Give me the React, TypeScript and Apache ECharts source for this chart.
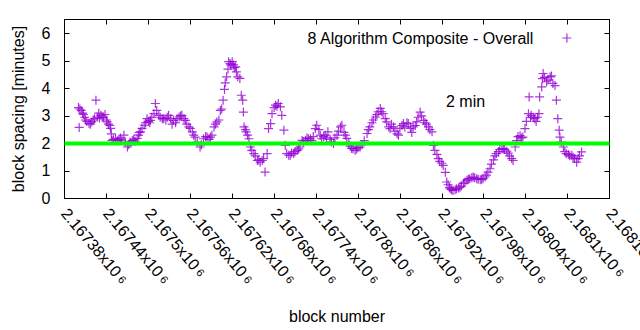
import React, { useEffect, useRef } from "react";
import * as echarts from "echarts";

// block numbers (x) and block spacing in minutes (y)
const blocks = [
  2167400, 2167401, 2167402, 2167404, 2167406, 2167407, 2167409, 2167410, 2167412, 2167415,
  2167417, 2167419, 2167421, 2167423, 2167425, 2167427, 2167429, 2167430, 2167432, 2167434,
  2167436, 2167438, 2167440, 2167441, 2167443, 2167445, 2167446, 2167447, 2167448, 2167450,
  2167453, 2167456, 2167458, 2167460, 2167462, 2167465, 2167467, 2167470, 2167472, 2167474,
  2167477, 2167479, 2167481, 2167484, 2167486, 2167487, 2167489, 2167491, 2167494, 2167496,
  2167498, 2167500, 2167502, 2167503, 2167505, 2167508, 2167510, 2167512, 2167515, 2167517,
  2167520, 2167522, 2167525, 2167527, 2167529, 2167532, 2167534, 2167536, 2167539, 2167541,
  2167544, 2167546, 2167548, 2167551, 2167553, 2167555, 2167558, 2167560, 2167563, 2167565,
  2167567, 2167570, 2167574, 2167576, 2167579, 2167582, 2167584, 2167587, 2167589, 2167591,
  2167594, 2167596, 2167598, 2167601, 2167603, 2167605, 2167607, 2167609, 2167610, 2167612,
  2167614, 2167615, 2167617, 2167618, 2167620, 2167622, 2167623, 2167625, 2167626, 2167628,
  2167631, 2167633, 2167635, 2167636, 2167637, 2167639, 2167640, 2167642, 2167644, 2167646,
  2167648, 2167651, 2167653, 2167656, 2167658, 2167660, 2167663, 2167665, 2167667, 2167670,
  2167672, 2167675, 2167677, 2167680, 2167682, 2167684, 2167686, 2167689, 2167691, 2167694,
  2167696, 2167698, 2167701, 2167703, 2167705, 2167708, 2167710, 2167713, 2167715, 2167717,
  2167720, 2167722, 2167725, 2167727, 2167729, 2167732, 2167734, 2167736, 2167739, 2167741,
  2167744, 2167746, 2167748, 2167751, 2167753, 2167755, 2167757, 2167760, 2167762, 2167765,
  2167767, 2167770, 2167772, 2167775, 2167777, 2167780, 2167782, 2167784, 2167787, 2167789,
  2167791, 2167793, 2167796, 2167798, 2167800, 2167803, 2167806, 2167809, 2167813, 2167815,
  2167817, 2167820, 2167822, 2167825, 2167827, 2167829, 2167832, 2167834, 2167836, 2167839,
  2167841, 2167844, 2167846, 2167848, 2167851, 2167853, 2167856, 2167858, 2167860, 2167863,
  2167865, 2167867, 2167870, 2167872, 2167875, 2167877, 2167879, 2167882, 2167884, 2167886,
  2167889, 2167891, 2167894, 2167896, 2167898, 2167901, 2167903, 2167906, 2167908, 2167910,
  2167913, 2167915, 2167917, 2167920, 2167922, 2167925, 2167927, 2167929, 2167931, 2167932,
  2167934, 2167936, 2167939, 2167941, 2167944, 2167946, 2167948, 2167951, 2167953, 2167956,
  2167958, 2167960, 2167963, 2167965, 2167967, 2167970, 2167972, 2167975, 2167977, 2167979,
  2167982, 2167984, 2167986, 2167989, 2167991, 2167994, 2167996, 2167998, 2168001, 2168003,
  2168006, 2168008, 2168010, 2168013, 2168015, 2168017, 2168020, 2168022, 2168025, 2168027,
  2168029, 2168032, 2168034, 2168036, 2168039, 2168041, 2168044, 2168045, 2168047, 2168048,
  2168051, 2168053, 2168055, 2168057, 2168059, 2168060, 2168063, 2168064, 2168065, 2168067,
  2168070, 2168072, 2168075, 2168077, 2168079, 2168082, 2168084, 2168086, 2168088, 2168089,
  2168091, 2168094, 2168096, 2168098, 2168101, 2168103, 2168106, 2168108, 2168110, 2168113,
  2168115, 2168117, 2168120,
];

const minutes = [
  3.30, 2.58, 3.25, 3.20, 3.10, 3.05, 2.95, 2.85, 2.80, 2.73,
  2.70, 2.78, 2.85, 2.90, 3.57, 2.96, 3.10, 2.92, 3.02, 2.95,
  2.96, 3.05, 2.85, 2.78, 2.70, 2.65, 2.55, 2.35, 2.11, 2.15,
  2.18, 2.10, 2.15, 2.20, 2.12, 2.30, 2.05, 1.87, 1.95, 2.05,
  2.10, 2.15, 2.08, 2.18, 2.30, 2.40, 2.42, 2.55, 2.66, 2.75,
  2.90, 2.80, 2.75, 2.84, 2.95, 3.08, 3.45, 3.20, 3.02, 2.95,
  2.90, 2.90, 2.85, 2.95, 3.02, 2.90, 2.70, 2.84, 2.75, 2.90,
  2.96, 3.00, 3.02, 2.90, 2.84, 2.70, 2.60, 2.55, 2.42, 2.30,
  2.23, 2.05, 1.87, 1.95, 2.17, 2.25, 2.23, 2.15, 2.23, 2.30,
  2.60, 2.70, 2.78, 2.85, 3.20, 3.25, 3.57, 3.96, 4.20, 4.42,
  4.70, 4.97, 4.90, 4.85, 4.97, 4.85, 4.75, 4.78, 4.60, 4.42,
  4.36, 3.75, 3.57, 3.14, 2.60, 2.50, 2.42, 2.30, 2.17, 1.87,
  1.75, 1.63, 1.55, 1.38, 1.40, 1.32, 1.38, 1.45, 0.96, 1.63,
  2.54, 2.72, 3.08, 3.30, 3.39, 3.35, 3.45, 3.33, 3.02, 2.48,
  1.93, 1.63, 1.57, 1.57, 1.65, 1.63, 1.70, 1.75, 1.80, 1.87,
  2.11, 2.05, 2.11, 2.20, 2.17, 2.17, 2.10, 2.25, 2.54, 2.66,
  2.50, 2.30, 2.17, 2.25, 2.30, 2.20, 2.42, 2.15, 2.05, 2.00,
  2.20, 2.30, 2.45, 2.60, 2.66, 2.40, 2.30, 2.18, 2.00, 1.90,
  1.82, 1.81, 1.75, 1.80, 1.85, 1.87, 1.95, 2.10, 2.36, 2.50,
  2.60, 2.75, 2.85, 2.96, 3.05, 3.15, 3.27, 3.15, 3.08, 2.90,
  2.78, 2.60, 2.54, 2.70, 2.60, 2.45, 2.35, 2.30, 2.55, 2.65,
  2.72, 2.60, 2.75, 2.72, 2.55, 2.40, 2.60, 2.65, 2.78, 2.95,
  3.14, 3.00, 2.84, 2.75, 2.70, 2.60, 2.50, 2.42, 1.93, 1.75,
  1.60, 1.45, 1.35, 1.28, 1.20, 0.95, 0.60, 0.50, 0.40, 0.35,
  0.32, 0.29, 0.32, 0.35, 0.38, 0.41, 0.45, 0.55, 0.60, 0.66,
  0.70, 0.72, 0.75, 0.78, 0.75, 0.72, 0.70, 0.68, 0.70, 0.72,
  0.78, 0.85, 0.96, 1.08, 1.25, 1.40, 1.55, 1.63, 1.70, 1.78,
  1.81, 1.80, 1.78, 1.72, 1.65, 1.55, 1.45, 1.38, 1.87, 2.10,
  2.25, 2.28, 2.20, 2.23, 2.54, 2.80, 3.08, 3.69, 2.95, 3.02,
  2.95, 2.90, 2.80, 2.95, 3.08, 3.69, 4.05, 4.35, 4.54, 4.40,
  4.24, 4.30, 4.42, 4.45, 4.18, 4.10, 3.57, 2.90, 2.48, 2.23,
  2.05, 1.87, 1.70, 1.63, 1.60, 1.55, 1.57, 1.50, 1.45, 1.32,
  1.45, 1.55, 1.69,
];

const seriesName = "8 Algorithm Composite - Overall";
const targetMinutes = 2;
const targetLabel = "2 min";
const xMin = 2167380;
const xMax = 2168160;
const xStep = 60;
const yMin = 0;
const yMax = 6.5;
const yStep = 1;

const FONT = "'Liberation Sans', Arial, sans-serif";
const FS = 16;
const PURPLE = "#9400d3";
const PLUS = "path://M0,5L10,5M5,0L5,10";

export default function App() {
  const ref = useRef<HTMLDivElement>(null);

  useEffect(() => {
    if (!ref.current) return;
    const chart = echarts.init(ref.current, null, { renderer: "svg" });
    const points = blocks.map((b, i) => [b, minutes[i]]);

    const axisLine = { show: true, onZero: false, lineStyle: { color: "#000", width: 1 } };
    const axisTick = { show: true, inside: true, length: 5, lineStyle: { color: "#000", width: 1 } };

    chart.setOption({
      animation: false,
      textStyle: { fontFamily: FONT },
      grid: {
        left: 64.5,
        right: 30.5,
        top: 19.5,
        bottom: 131.5,
        containLabel: false,
        outerBoundsMode: "none",
      },
      legend: {
        data: [
          {
            name: seriesName,
            icon: PLUS,
            itemStyle: { color: "transparent", borderColor: PURPLE, borderWidth: 1.2 },
          },
        ],
        right: 63,
        top: 25,
        align: "right",
        itemWidth: 9,
        itemHeight: 9,
        textStyle: {
          fontSize: FS,
          color: "#000",
          fontFamily: FONT,
          padding: [0, 24, 0, 0],
        },
      },
      graphic: [
        {
          type: "text",
          left: 446,
          top: 93,
          style: { text: targetLabel, fontSize: FS, fill: "#000", fontFamily: FONT },
        },
      ],
      xAxis: [
        {
          type: "value",
          position: "bottom",
          min: xMin,
          max: xMax,
          interval: xStep,
          name: "block number",
          nameLocation: "middle",
          nameGap: 110,
          nameTextStyle: { fontSize: FS, color: "#000", fontFamily: FONT },
          axisLine,
          axisTick,
          splitLine: { show: false },
          axisLabel: {
            rotate: -50,
            margin: 12,
            showMinLabel: true,
            showMaxLabel: true,
            color: "#000",
            fontFamily: FONT,
            formatter: (v: number) =>
              `{m|${parseFloat((v / 1e6).toFixed(5)).toString()}x10} {s|6}`,
            rich: {
              m: { fontSize: FS, color: "#000", fontFamily: FONT },
              s: { fontSize: 11, color: "#000", fontFamily: FONT },
            },
          },
        },
        {
          type: "value",
          position: "top",
          min: xMin,
          max: xMax,
          interval: xStep,
          axisLine,
          axisTick,
          axisLabel: { show: false },
          splitLine: { show: false },
        },
      ],
      yAxis: [
        {
          type: "value",
          position: "left",
          min: yMin,
          max: yMax,
          interval: yStep,
          name: "block spacing [minutes]",
          nameLocation: "middle",
          nameRotate: 90,
          nameGap: 38,
          nameTextStyle: { fontSize: FS, color: "#000", fontFamily: FONT },
          axisLine,
          axisTick,
          splitLine: { show: false },
          axisLabel: {
            margin: 14,
            showMaxLabel: false,
            fontSize: FS,
            color: "#000",
            fontFamily: FONT,
          },
        },
        {
          type: "value",
          position: "right",
          min: yMin,
          max: yMax,
          interval: yStep,
          axisLine,
          axisTick,
          axisLabel: { show: false },
          splitLine: { show: false },
        },
      ],
      series: [
        {
          name: seriesName,
          type: "scatter",
          xAxisIndex: 0,
          yAxisIndex: 0,
          symbol: PLUS,
          symbolSize: 9,
          itemStyle: { color: "transparent", borderColor: PURPLE, borderWidth: 1.2 },
          data: points,
          z: 2,
        },
        {
          name: "target",
          type: "line",
          xAxisIndex: 0,
          yAxisIndex: 0,
          symbol: "none",
          lineStyle: { color: "#00ff00", width: 4 },
          data: [
            [xMin, targetMinutes],
            [xMax, targetMinutes],
          ],
          z: 3,
        },
      ],
    });

    return () => chart.dispose();
  }, []);

  return (
    <div
      ref={ref}
      style={{ position: "absolute", left: 0, top: 0, width: 640, height: 330 }}
    />
  );
}
